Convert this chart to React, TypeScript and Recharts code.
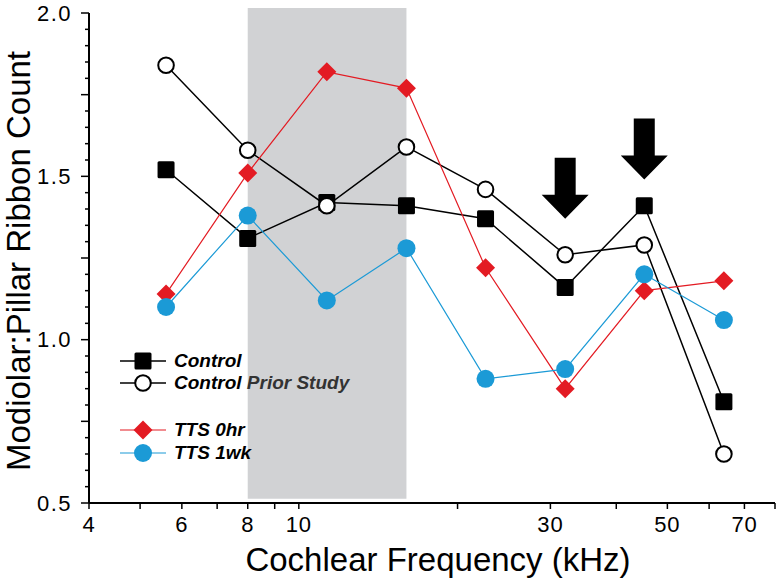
import { Legend, Line, LineChart, ReferenceArea, ReferenceDot, XAxis, YAxis } from 'recharts'

const freqs = [5.6, 8, 11.3, 16, 22.6, 32, 45.2, 64]
const control = [1.52, 1.31, 1.42, 1.41, 1.37, 1.16, 1.41, 0.81]
const controlPrior = [1.84, 1.58, 1.41, 1.59, 1.46, 1.26, 1.29, 0.65]
const tts0hr = [1.14, 1.51, 1.82, 1.77, 1.22, 0.85, 1.15, 1.18]
const tts1wk = [1.1, 1.38, 1.12, 1.28, 0.88, 0.91, 1.2, 1.06]

const xTicks = [4, 5, 6, 7, 8, 9, 10, 20, 30, 40, 50, 60, 70, 80]
const xTickLabels = [4, 6, 8, 10, 30, 50, 70]
const yTicks = [
  0.5, 0.55, 0.6, 0.65, 0.7, 0.75, 0.8, 0.85, 0.9, 0.95, 1.0, 1.05, 1.1, 1.15, 1.2, 1.25,
  1.3, 1.35, 1.4, 1.45, 1.5, 1.55, 1.6, 1.65, 1.7, 1.75, 1.8, 1.85, 1.9, 1.95, 2.0,
]
const yTickLabels = [0.5, 1.0, 1.5, 2.0]
const yLongTicks = [0.5, 0.75, 1.0, 1.25, 1.5, 1.75, 2.0]

// shaded band (kHz) and the two arrows (tip values)
const band = { from: 8, to: 16, low: 0.513, high: 2.015 }
const arrows = [
  { freq: 32, tip: 1.37 },
  { freq: 45.2, tip: 1.49 },
]

const data = freqs.map((f, i) => ({
  freq: f,
  control: control[i],
  controlPrior: controlPrior[i],
  tts0hr: tts0hr[i],
  tts1wk: tts1wk[i],
}))

const RED = '#e31b23'
const BLUE = '#1b9ad6'
const FONT = '"Liberation Sans", Arial, Helvetica, sans-serif'

const has = (list: number[], v: number) => list.some((t) => Math.abs(t - v) < 1e-6)

const Square = ({ cx, cy }: any) => (
  <rect x={cx - 8.5} y={cy - 8.5} width={17} height={17} rx={1.5} fill="#000" />
)
const OpenCircle = ({ cx, cy }: any) => (
  <circle cx={cx} cy={cy} r={7.8} fill="#fff" stroke="#000" strokeWidth={2} />
)
const Diamond = ({ cx, cy }: any) => (
  <polygon
    points={`${cx},${cy - 9.5} ${cx + 9.5},${cy} ${cx},${cy + 9.5} ${cx - 9.5},${cy}`}
    fill={RED}
  />
)
const Dot = ({ cx, cy }: any) => <circle cx={cx} cy={cy} r={9} fill={BLUE} />

const Arrow = ({ cx, cy }: any) => {
  const pts = [
    [cx, cy],
    [cx - 23.5, cy - 24],
    [cx - 10.5, cy - 24],
    [cx - 10.5, cy - 61],
    [cx + 10.5, cy - 61],
    [cx + 10.5, cy - 24],
    [cx + 23.5, cy - 24],
  ]
  return <polygon points={pts.map((p) => p.join(',')).join(' ')} fill="#000" />
}

const XTick = ({ x, y, payload }: any) => (
  <g>
    <line x1={x} x2={x} y1={y} y2={y + 6} stroke="#000" strokeWidth={1.5} />
    {has(xTickLabels, payload.value) && (
      <text
        x={x}
        y={y + 29}
        textAnchor="middle"
        fontSize={22}
        letterSpacing={0.8}
        fontFamily={FONT}
        fill="#000"
      >
        {payload.value}
      </text>
    )}
  </g>
)

const YTick = ({ x, y, payload }: any) => {
  const v = payload.value
  const len = has(yLongTicks, v) ? 8 : 4
  return (
    <g>
      <line x1={x - len} x2={x} y1={y} y2={y} stroke="#000" strokeWidth={1.5} />
      {has(yTickLabels, v) && (
        <text
          x={x - 17}
          y={y + 7.8}
          textAnchor="end"
          fontSize={22}
          letterSpacing={1.5}
          fontFamily={FONT}
          fill="#000"
        >
          {v.toFixed(1)}
        </text>
      )}
    </g>
  )
}

const legendRows = [
  { label: 'Control', extra: '', color: '#000', width: 1.5, Mark: Square, top: 13 },
  { label: 'Control', extra: ' Prior Study', color: '#000', width: 1.5, Mark: OpenCircle, top: 35 },
  { label: 'TTS 0hr', extra: '', color: RED, width: 1.2, Mark: Diamond, top: 82 },
  { label: 'TTS 1wk', extra: '', color: BLUE, width: 1.2, Mark: Dot, top: 105 },
]

const LegendBox = () => (
  <div style={{ position: 'relative', width: 300, height: 130 }}>
    {legendRows.map((r) => (
      <div
        key={r.label + r.extra}
        style={{
          position: 'absolute',
          left: 0,
          top: r.top - 12,
          height: 24,
          display: 'flex',
          alignItems: 'center',
          whiteSpace: 'nowrap',
        }}
      >
        <svg width={58} height={24}>
          <line x1={4} x2={50} y1={12} y2={12} stroke={r.color} strokeWidth={r.width} />
          <r.Mark cx={27} cy={12} />
        </svg>
        <span
          style={{
            fontFamily: FONT,
            fontSize: 19,
            fontWeight: 'bold',
            fontStyle: 'italic',
            color: '#000',
            lineHeight: '24px',
          }}
        >
          {r.label}
          {r.extra && <span style={{ color: '#333' }}>{r.extra}</span>}
        </span>
      </div>
    ))}
  </div>
)

export default function App() {
  return (
    <div style={{ position: 'absolute', left: 0, top: 0, background: '#fff' }}>
      <LineChart
        width={779}
        height={578}
        data={data}
        margin={{ top: 13, right: 4, bottom: 0, left: 0 }}
        style={{ fontFamily: FONT }}
      >
        <ReferenceArea
          x1={band.from}
          x2={band.to}
          y1={band.low}
          y2={band.high}
          fill="#d1d2d4"
          fillOpacity={1}
          stroke="none"
          ifOverflow="visible"
        />
        <XAxis
          dataKey="freq"
          type="number"
          scale="log"
          domain={[4, 80]}
          ticks={xTicks}
          interval={0}
          allowDataOverflow
          height={75}
          tickSize={0}
          tickMargin={0}
          tickLine={false}
          tick={<XTick />}
          axisLine={{ stroke: '#000', strokeWidth: 2 }}
          label={{
            content: () => (
              <text x={438} y={571} textAnchor="middle" fontSize={33} fontFamily={FONT} fill="#000">
                Cochlear Frequency (kHz)
              </text>
            ),
          }}
        />
        <YAxis
          type="number"
          domain={[0.5, 2.0]}
          ticks={yTicks}
          interval={0}
          allowDataOverflow
          width={89}
          tickSize={0}
          tickMargin={0}
          tickLine={false}
          tick={<YTick />}
          axisLine={{ stroke: '#000', strokeWidth: 2 }}
          label={{
            content: () => (
              <text
                x={30}
                y={261}
                transform="rotate(-90, 30, 261)"
                textAnchor="middle"
                fontSize={33}
                fontFamily={FONT}
                fill="#000"
              >
                Modiolar:Pillar Ribbon Count
              </text>
            ),
          }}
        />
        <Line
          dataKey="control"
          stroke="#000"
          strokeWidth={1.5}
          isAnimationActive={false}
          dot={(p: any) => <Square key={p.index} cx={p.cx} cy={p.cy} />}
        />
        <Line
          dataKey="controlPrior"
          stroke="#000"
          strokeWidth={1.5}
          isAnimationActive={false}
          dot={(p: any) => <OpenCircle key={p.index} cx={p.cx} cy={p.cy} />}
        />
        <Line
          dataKey="tts0hr"
          stroke={RED}
          strokeWidth={1.2}
          isAnimationActive={false}
          dot={(p: any) => <Diamond key={p.index} cx={p.cx} cy={p.cy} />}
        />
        <Line
          dataKey="tts1wk"
          stroke={BLUE}
          strokeWidth={1.2}
          isAnimationActive={false}
          dot={(p: any) => <Dot key={p.index} cx={p.cx} cy={p.cy} />}
        />
        {arrows.map((a) => (
          <ReferenceDot key={a.freq} x={a.freq} y={a.tip} r={1} shape={<Arrow />} />
        ))}
        <Legend
          layout="horizontal"
          verticalAlign="middle"
          align="center"
          content={<LegendBox />}
          wrapperStyle={{ left: 116, top: 348, width: 300, height: 130 }}
        />
      </LineChart>
    </div>
  )
}
